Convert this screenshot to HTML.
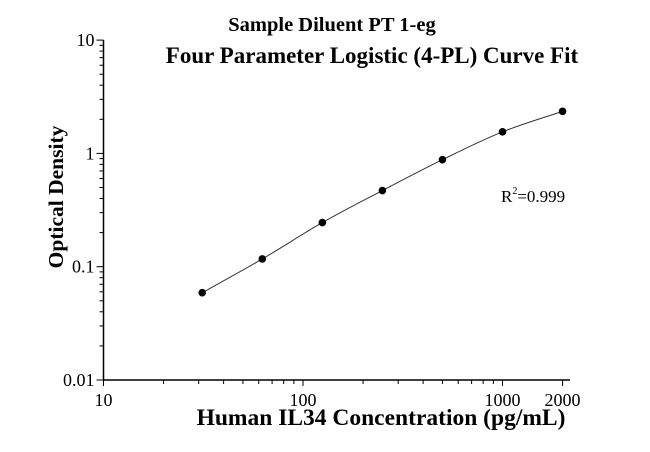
<!DOCTYPE html>
<html><head><meta charset="utf-8"><style>
body{margin:0;background:#fff;}
svg text{font-family:"Liberation Serif",serif;}
</style></head><body>
<svg id="c" width="650" height="447" xmlns="http://www.w3.org/2000/svg">
<text x="332" y="31" font-size="20.5" font-weight="bold" text-anchor="middle">Sample Diluent PT 1-eg</text>
<text x="372" y="63" font-size="23" font-weight="bold" text-anchor="middle">Four Parameter Logistic (4-PL) Curve Fit</text>
<text x="381" y="425" font-size="23.5" font-weight="bold" text-anchor="middle">Human IL34 Concentration (pg/mL)</text>
<text transform="translate(63,197) rotate(-90)" font-size="21.5" font-weight="bold" text-anchor="middle">Optical Density</text>
<text x="501" y="202" font-size="17">R<tspan dy="-8" font-size="10">2</tspan><tspan dy="8">=0.999</tspan></text>
<g id="axes"></g><g id="plot"></g>
</svg>
<script>
const xValues=[31.25,62.5,125,250,500,1000,2000];
const yValues=[0.059,0.117,0.245,0.47,0.88,1.55,2.35];
const xTickLabels=["10","100","1000","2000"];
const yTickLabels=["0.01","0.1","1","10"];
const NS="http://www.w3.org/2000/svg";
const X0=103.5,XDEC=199.5,Y0=380,YDEC=113.3;
function xs(v){return X0+(Math.log10(v)-1)*XDEC;}
function ys(v){return Y0-(Math.log10(v)+2)*YDEC;}
const axes=document.getElementById('axes'),plot=document.getElementById('plot');
function mk(t,a,p){const e=document.createElementNS(NS,t);for(const k in a)e.setAttribute(k,a[k]);p.appendChild(e);return e;}
const xa=mk('line',{x1:X0,y1:Y0,x2:570,y2:Y0,stroke:'#000','stroke-width':1.5},axes);


const ya=mk('line',{x1:X0,y1:Y0,x2:X0,y2:ys(10),stroke:'#000','stroke-width':1.5},axes);


for(let d=10;d<=1000;d*=10){for(let m=1;m<10;m++){const v=d*m;if(v>2000)break;const x=xs(v);mk('line',{x1:x,y1:Y0,x2:x,y2:Y0+(m==1?6:4),stroke:'#000','stroke-width':1},axes);}}
mk('line',{x1:xs(2000),y1:Y0,x2:xs(2000),y2:Y0+6,stroke:'#000'},axes);
xTickLabels.forEach(s=>{const t=mk('text',{x:xs(+s),y:Y0+26,'font-size':18,'text-anchor':'middle'},axes);t.textContent=s;

});
for(let d=0.01;d<5;d*=10){for(let m=1;m<10;m++){const y=ys(d*m);mk('line',{x1:X0,y1:y,x2:X0-(m==1?7:4),y2:y,stroke:'#000','stroke-width':1},axes);}}
mk('line',{x1:X0,y1:ys(10),x2:X0-7,y2:ys(10),stroke:'#000'},axes);
yTickLabels.forEach(s=>{const t=mk('text',{x:X0-9,y:ys(+s)+6,'font-size':18,'text-anchor':'end'},axes);t.textContent=s;

});
const P=xValues.map((v,i)=>[xs(v),ys(yValues[i])]);
let d='M'+P[0][0]+','+P[0][1];
for(let i=0;i<P.length-1;i++){const p0=P[Math.max(0,i-1)],p1=P[i],p2=P[i+1],p3=P[Math.min(P.length-1,i+2)];
d+=` C${p1[0]+(p2[0]-p0[0])/6},${p1[1]+(p2[1]-p0[1])/6} ${p2[0]-(p3[0]-p1[0])/6},${p2[1]-(p3[1]-p1[1])/6} ${p2[0]},${p2[1]}`;}
const c=mk('path',{d:d,fill:'none',stroke:'#333','stroke-width':1},plot);


P.forEach(p=>{const e=mk('circle',{cx:p[0],cy:p[1],r:3.8,fill:'#000'},plot);

});
</script>
</body></html>
